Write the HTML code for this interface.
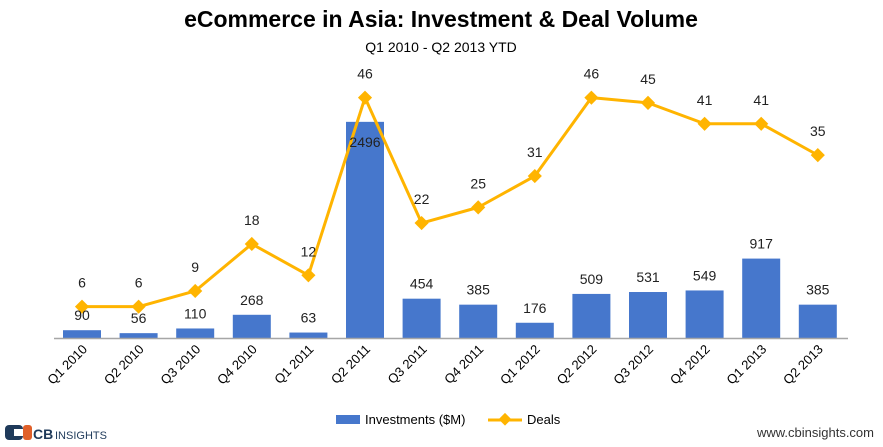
<!DOCTYPE html>
<html><head><meta charset="utf-8"><style>
body{margin:0;background:#fff;font-family:"Liberation Sans",sans-serif}
svg text{font-family:"Liberation Sans",sans-serif}
</style></head><body>
<svg width="883" height="442" viewBox="0 0 883 442">
<text x="441" y="27" text-anchor="middle" font-size="23" font-weight="bold" fill="#000">eCommerce in Asia: Investment &amp; Deal Volume</text>
<text x="441" y="52" text-anchor="middle" font-size="14" fill="#000">Q1 2010 - Q2 2013 YTD</text>
<g id="bars"></g><g id="line"></g><g id="labels"></g>
<line x1="54" y1="338.5" x2="848" y2="338.5" stroke="#a6a6a6" stroke-width="1.5"/>
<g>
<rect x="336" y="415" width="24" height="9" fill="#4677cc"/>
<text x="365" y="424" font-size="13" fill="#000">Investments ($M)</text>
<line x1="488" y1="420" x2="522" y2="420" stroke="#ffb400" stroke-width="3"/>
<rect x="500" y="415" width="9" height="9" fill="#ffb400" transform="rotate(45 505 420)"/>
<text x="527" y="424" font-size="13" fill="#000">Deals</text>
</g>
<g>
<rect x="5" y="425" width="18" height="15" rx="4" fill="#1f3a5a"/>
<rect x="14" y="429" width="9" height="7" fill="#fff"/>
<rect x="23" y="425" width="9" height="15" rx="3" fill="#e0602a"/>
<text x="33" y="439" font-size="14" font-weight="bold" fill="#1f3a5a">CB</text>
<text x="55" y="439" font-size="11" fill="#1f3a5a">INSIGHTS</text>
</g>
<text x="874" y="437" text-anchor="end" font-size="13" fill="#333">www.cbinsights.com</text>
</svg>
<script>
const categories=["Q1 2010","Q2 2010","Q3 2010","Q4 2010","Q1 2011","Q2 2011","Q3 2011","Q4 2011","Q1 2012","Q2 2012","Q3 2012","Q4 2012","Q1 2013","Q2 2013"];
const investments=[90,56,110,268,63,2496,454,385,176,509,531,549,917,385];
const deals=[6,6,9,18,12,46,22,25,31,46,45,41,41,35];
const NS="http://www.w3.org/2000/svg";
const base=338;
function xPos(i){return 82+i*56.6;}
function yBar(v){return base-v*0.0866;}
function yDeal(v){return base-v*5.225;}
const gb=document.getElementById('bars'),gl=document.getElementById('line'),gt=document.getElementById('labels');
function mk(tag,attrs,parent){const e=document.createElementNS(NS,tag);for(const k in attrs)e.setAttribute(k,attrs[k]);parent.appendChild(e);return e;}
categories.forEach((c,i)=>{
  const x=xPos(i),y=yBar(investments[i]);
  const r=mk('rect',{x:x-19,y:y,width:38,height:base-y,fill:'#4677cc'},gb);
  
  
  const big=investments[i]>2000;
  const t=mk('text',{x:x,y:big?y+25:y-10,'text-anchor':'middle','font-size':14,fill:'#222'},gt);
  t.textContent=investments[i];
  
  
  const xl=mk('text',{x:0,y:0,'text-anchor':'end','font-size':13,fill:'#000',transform:`translate(${x+6},${base+12}) rotate(-45)`},gt);
  xl.textContent=c;
  
  
});
const pts=deals.map((d,i)=>xPos(i)+','+yDeal(d)).join(' ');
const pl=mk('polyline',{points:pts,fill:'none',stroke:'#ffb400','stroke-width':3,'stroke-linejoin':'round'},gl);


deals.forEach((d,i)=>{
  const x=xPos(i),y=yDeal(d);
  const m=mk('rect',{x:x-5,y:y-5,width:10,height:10,fill:'#ffb400',transform:`rotate(45 ${x} ${y})`},gl);
  
  
  const t=mk('text',{x:x,y:y-19,'text-anchor':'middle','font-size':14,fill:'#222'},gt);
  t.textContent=d;
  
  
});
</script>
</body></html>
